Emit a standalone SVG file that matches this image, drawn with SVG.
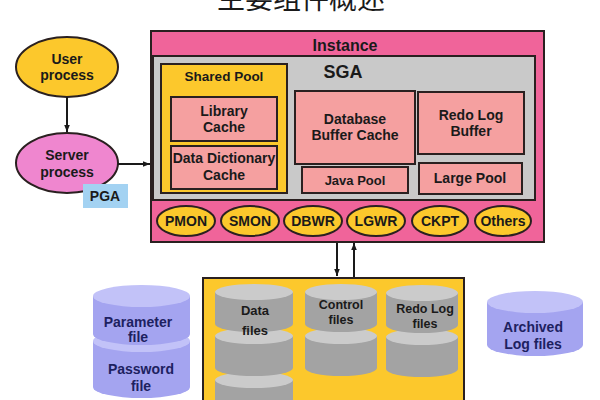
<svg xmlns="http://www.w3.org/2000/svg" width="600" height="400" viewBox="0 0 600 400">
<defs>
<marker id="ah" viewBox="0 0 10 10" refX="10" refY="5" markerWidth="7" markerHeight="7" orient="auto-start-reverse" markerUnits="userSpaceOnUse">
<path d="M0,1 L10,5 L0,9 z" fill="#1a1a1a"/>
</marker>
<style>
.t{font-family:"Liberation Sans",Arial,sans-serif;font-weight:bold;fill:#1a1a1a;text-anchor:middle}
.f14{font-size:14px}
.f13{font-size:13px}
.f12{font-size:12.5px}
.box{stroke:#2a2020;stroke-width:2}
.salmon{fill:#f5a0a0}
.yel{fill:#fcc82c}
.pink{fill:#f0649a}
.bg{fill:#fcc82c;stroke:#2a2020;stroke-width:2}
.gtop{fill:#cbcbcb}
.gbody{fill:#a3a3a3}
.ltop{fill:#c2c2f8}
.lbody{fill:#a4a4f0}
.navy{fill:#1d2160}
.conn{stroke:#1a1a1a;stroke-width:2;fill:none}
</style>
</defs>
<rect width="600" height="400" fill="#ffffff"/>
<text x="301" y="9" font-family="'Noto Sans CJK SC',sans-serif" font-size="28" fill="#1a1a1a" text-anchor="middle">主要组件概述</text>

<g id="instance">
<rect x="151" y="31" width="393" height="211" class="pink box"/>
<text x="345" y="51" class="t" font-size="16">Instance</text>
</g>
<g id="sga">
<rect x="153" y="56" width="382" height="144" fill="#c9c9c9" class="box"/>
<text x="343" y="78" class="t" font-size="18">SGA</text>
</g>
<g id="shared-pool">
<rect x="161" y="64" width="126" height="129" class="yel box"/>
<text x="224" y="81" class="t" font-size="13.5">Shared Pool</text>
</g>
<g id="library-cache">
<rect x="171" y="97" width="106" height="44" class="salmon box"/>
<text x="224" y="116" class="t f14">Library</text>
<text x="224" y="132" class="t f14">Cache</text>
</g>
<g id="data-dictionary-cache">
<rect x="171" y="146" width="106" height="43" class="salmon box"/>
<text x="224" y="163" class="t f14">Data Dictionary</text>
<text x="224" y="180" class="t f14">Cache</text>
</g>
<g id="database-buffer-cache">
<rect x="295" y="91" width="120" height="73" class="salmon box"/>
<text x="355" y="124" class="t f14">Database</text>
<text x="355" y="140" class="t f14">Buffer Cache</text>
</g>
<g id="redo-log-buffer">
<rect x="418" y="92" width="106" height="62" class="salmon box"/>
<text x="471" y="120" class="t f14">Redo Log</text>
<text x="471" y="136" class="t f14">Buffer</text>
</g>
<g id="java-pool">
<rect x="302" y="167" width="106" height="26" class="salmon box"/>
<text x="355" y="185" class="t f13">Java Pool</text>
</g>
<g id="large-pool">
<rect x="419" y="163" width="103" height="31" class="salmon box"/>
<text x="470" y="183" class="t f14">Large Pool</text>
</g>

<g id="pmon"><ellipse cx="186" cy="221" rx="29" ry="15" class="yel box"/><text x="186" y="226" class="t f14">PMON</text></g>
<g id="smon"><ellipse cx="250" cy="221" rx="29" ry="15" class="yel box"/><text x="250" y="226" class="t f14">SMON</text></g>
<g id="dbwr"><ellipse cx="313" cy="221" rx="29" ry="15" class="yel box"/><text x="313" y="226" class="t f14">DBWR</text></g>
<g id="lgwr"><ellipse cx="376" cy="221" rx="29" ry="15" class="yel box"/><text x="376" y="226" class="t f14">LGWR</text></g>
<g id="ckpt"><ellipse cx="440" cy="221" rx="28" ry="15" class="yel box"/><text x="440" y="226" class="t f14">CKPT</text></g>
<g id="others"><ellipse cx="503" cy="221" rx="28" ry="15" class="yel box"/><text x="503" y="226" class="t f14">Others</text></g>

<g id="user-process">
<ellipse cx="67" cy="67" rx="51" ry="30" fill="#fcc82c" class="box"/>
<text x="67" y="64" class="t f14">User</text>
<text x="67" y="80" class="t f14">process</text>
</g>
<g id="server-process">
<ellipse cx="67" cy="163" rx="51" ry="30" fill="#ef86cf" class="box"/>
<text x="67" y="160" class="t f14">Server</text>
<text x="67" y="177" class="t f14">process</text>
</g>
<g id="pga">
<rect x="83" y="184" width="45" height="24" fill="#a3d2f2"/>
<text x="105" y="201" class="t f14">PGA</text>
</g>

<g id="database">
<rect x="203" y="278" width="261" height="130" class="bg"/>
</g>
<g id="data-files">
<path d="M215,380 v32 a39,8 0 0 0 78,0 v-32 z" class="gbody"/><ellipse cx="254" cy="380" rx="39" ry="8" class="gtop"/>
<path d="M215,336 v32 a39,8 0 0 0 78,0 v-32 z" class="gbody"/><ellipse cx="254" cy="336" rx="39" ry="8" class="gtop"/>
<path d="M215,292 v32 a39,8 0 0 0 78,0 v-32 z" class="gbody"/><ellipse cx="254" cy="292" rx="39" ry="8" class="gtop"/>
<text x="255" y="315" class="t f13">Data</text>
<text x="255" y="335" class="t f13">files</text>
</g>
<g id="control-files">
<path d="M305,336 v32 a36,8 0 0 0 72,0 v-32 z" class="gbody"/><ellipse cx="341" cy="336" rx="36" ry="8" class="gtop"/>
<path d="M305,292 v32 a36,8 0 0 0 72,0 v-32 z" class="gbody"/><ellipse cx="341" cy="292" rx="36" ry="8" class="gtop"/>
<text x="341" y="309" class="t f12">Control</text>
<text x="341" y="324" class="t f12">files</text>
</g>
<g id="redo-log-files">
<path d="M386,337 v32 a36,8 0 0 0 72,0 v-32 z" class="gbody"/><ellipse cx="422" cy="337" rx="36" ry="8" class="gtop"/>
<path d="M386,293 v32 a36,8 0 0 0 72,0 v-32 z" class="gbody"/><ellipse cx="422" cy="293" rx="36" ry="8" class="gtop"/>
<text x="425" y="313" class="t f12">Redo Log</text>
<text x="425" y="328" class="t f12">files</text>
</g>

<g id="parameter-file">
<path d="M93,341 v46 a48.5,11 0 0 0 97,0 v-46 z" class="lbody"/><ellipse cx="141.5" cy="341" rx="48.5" ry="11" class="ltop"/>
<path d="M93,296 v38 a48.5,11 0 0 0 97,0 v-38 z" class="lbody"/><ellipse cx="141.5" cy="296" rx="48.5" ry="11" class="ltop"/>
<text x="138" y="327" class="t f14 navy">Parameter</text>
<text x="138" y="342" class="t f14 navy">file</text>
</g>
<g id="password-file">
<text x="141" y="374" class="t f14 navy">Password</text>
<text x="141" y="391" class="t f14 navy">file</text>
</g>
<g id="archived-log-files">
<path d="M487,302 v43 a48,11 0 0 0 96,0 v-43 z" class="lbody"/><ellipse cx="535" cy="302" rx="48" ry="11" class="ltop"/>
<text x="533" y="332" class="t f14 navy">Archived</text>
<text x="533" y="349" class="t f14 navy">Log files</text>
</g>

<g id="connectors">
<line x1="67" y1="97" x2="67" y2="132" class="conn" marker-end="url(#ah)"/>
<line x1="118" y1="164" x2="150" y2="164" class="conn" marker-end="url(#ah)"/>
<line x1="337" y1="243" x2="337" y2="276" class="conn" marker-end="url(#ah)"/>
<line x1="354" y1="277" x2="354" y2="243" class="conn" marker-end="url(#ah)"/>
</g>
</svg>
